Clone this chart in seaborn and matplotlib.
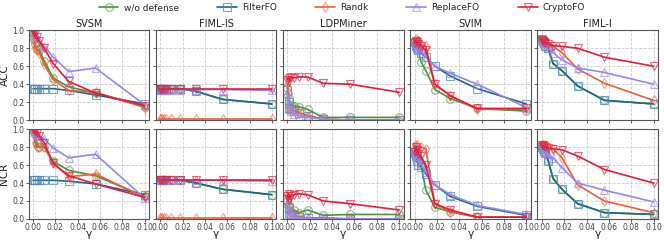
import matplotlib
matplotlib.use("Agg")
import matplotlib.pyplot as plt
import pandas as pd
import seaborn as sns

gammas = [0.0, 0.001, 0.0018, 0.0032, 0.0056, 0.01, 0.018, 0.032, 0.056, 0.1]
mechanisms = ["SVSM", "FIML-IS", "LDPMiner", "SVIM", "FIML-I"]
methods = ["w/o defense", "FilterFO", "Randk", "ReplaceFO", "CryptoFO"]
metrics = ["ACC", "NCR"]

# ACC, per mechanism, per method
svsm_acc = {
    "w/o defense": [0.97, 0.90, 0.85, 0.79, 0.78, 0.66, 0.47, 0.37, 0.30, 0.15],
    "FilterFO": [0.35, 0.35, 0.35, 0.35, 0.35, 0.35, 0.35, 0.33, 0.28, 0.18],
    "Randk": [0.95, 0.88, 0.80, 0.78, 0.75, 0.62, 0.45, 0.33, 0.31, 0.14],
    "ReplaceFO": [0.99, 0.98, 0.95, 0.92, 0.88, 0.82, 0.70, 0.54, 0.58, 0.17],
    "CryptoFO": [0.99, 0.98, 0.96, 0.93, 0.88, 0.80, 0.63, 0.43, 0.30, 0.16],
}
fimlis_acc = {
    "w/o defense": [0.35, 0.35, 0.35, 0.35, 0.35, 0.35, 0.35, 0.32, 0.23, 0.18],
    "FilterFO": [0.35, 0.35, 0.35, 0.35, 0.35, 0.35, 0.35, 0.32, 0.23, 0.18],
    "Randk": [0.01, 0.01, 0.01, 0.01, 0.01, 0.01, 0.01, 0.01, 0.01, 0.01],
    "ReplaceFO": [0.34, 0.34, 0.34, 0.34, 0.34, 0.34, 0.34, 0.34, 0.34, 0.33],
    "CryptoFO": [0.35, 0.35, 0.35, 0.35, 0.35, 0.35, 0.35, 0.35, 0.35, 0.35],
}
ldp_acc = {
    "w/o defense": [0.36, 0.25, 0.16, 0.17, 0.16, 0.15, 0.12, 0.03, 0.03, 0.03],
    "FilterFO": [0.33, 0.20, 0.13, 0.12, 0.10, 0.08, 0.05, 0.01, 0.00, 0.00],
    "Randk": [0.40, 0.30, 0.15, 0.10, 0.10, 0.08, 0.05, 0.01, 0.00, 0.00],
    "ReplaceFO": [0.30, 0.20, 0.12, 0.10, 0.07, 0.05, 0.03, 0.01, 0.00, 0.00],
    "CryptoFO": [0.45, 0.47, 0.43, 0.48, 0.47, 0.48, 0.48, 0.41, 0.40, 0.31],
}
svim_acc = {
    "w/o defense": [0.85, 0.82, 0.80, 0.78, 0.65, 0.55, 0.34, 0.24, 0.13, 0.10],
    "FilterFO": [0.87, 0.83, 0.80, 0.78, 0.75, 0.70, 0.60, 0.49, 0.35, 0.18],
    "Randk": [0.85, 0.90, 0.88, 0.88, 0.85, 0.82, 0.40, 0.27, 0.12, 0.12],
    "ReplaceFO": [0.88, 0.85, 0.83, 0.80, 0.78, 0.70, 0.60, 0.52, 0.40, 0.14],
    "CryptoFO": [0.86, 0.88, 0.87, 0.85, 0.83, 0.78, 0.40, 0.27, 0.13, 0.13],
}
fimli_acc = {
    "w/o defense": [0.90, 0.88, 0.86, 0.83, 0.80, 0.63, 0.55, 0.38, 0.22, 0.18],
    "FilterFO": [0.90, 0.88, 0.86, 0.83, 0.80, 0.63, 0.55, 0.38, 0.22, 0.18],
    "Randk": [0.88, 0.88, 0.87, 0.86, 0.85, 0.82, 0.75, 0.57, 0.41, 0.22],
    "ReplaceFO": [0.88, 0.87, 0.86, 0.84, 0.80, 0.75, 0.67, 0.58, 0.53, 0.40],
    "CryptoFO": [0.89, 0.88, 0.87, 0.86, 0.85, 0.83, 0.82, 0.80, 0.70, 0.60],
}

# NCR
svsm_ncr = {
    "w/o defense": [1.00, 0.98, 0.95, 0.85, 0.80, 0.80, 0.64, 0.54, 0.48, 0.25],
    "FilterFO": [0.43, 0.43, 0.43, 0.43, 0.43, 0.43, 0.43, 0.42, 0.39, 0.27],
    "Randk": [0.97, 0.95, 0.85, 0.80, 0.80, 0.80, 0.62, 0.47, 0.50, 0.24],
    "ReplaceFO": [1.00, 0.99, 0.97, 0.95, 0.92, 0.89, 0.79, 0.68, 0.72, 0.23],
    "CryptoFO": [1.00, 0.99, 0.98, 0.96, 0.92, 0.85, 0.62, 0.48, 0.39, 0.24],
}
fimlis_ncr = {
    "w/o defense": [0.43, 0.43, 0.43, 0.43, 0.43, 0.43, 0.43, 0.40, 0.33, 0.27],
    "FilterFO": [0.43, 0.43, 0.43, 0.43, 0.43, 0.43, 0.43, 0.40, 0.33, 0.27],
    "Randk": [0.01, 0.01, 0.01, 0.01, 0.01, 0.01, 0.01, 0.01, 0.01, 0.01],
    "ReplaceFO": [0.43, 0.43, 0.43, 0.43, 0.43, 0.43, 0.43, 0.43, 0.43, 0.42],
    "CryptoFO": [0.43, 0.43, 0.43, 0.43, 0.43, 0.43, 0.43, 0.43, 0.43, 0.43],
}
ldp_ncr = {
    "w/o defense": [0.20, 0.15, 0.10, 0.08, 0.10, 0.07, 0.10, 0.04, 0.05, 0.05],
    "FilterFO": [0.22, 0.12, 0.06, 0.04, 0.03, 0.02, 0.01, 0.01, 0.00, 0.00],
    "Randk": [0.25, 0.15, 0.08, 0.05, 0.03, 0.02, 0.01, 0.01, 0.00, 0.00],
    "ReplaceFO": [0.18, 0.10, 0.05, 0.03, 0.02, 0.01, 0.01, 0.00, 0.00, 0.00],
    "CryptoFO": [0.25, 0.28, 0.22, 0.26, 0.27, 0.28, 0.27, 0.20, 0.17, 0.10],
}
svim_ncr = {
    "w/o defense": [0.70, 0.75, 0.72, 0.68, 0.60, 0.32, 0.13, 0.08, 0.02, 0.02],
    "FilterFO": [0.75, 0.70, 0.65, 0.60, 0.58, 0.50, 0.38, 0.25, 0.14, 0.04],
    "Randk": [0.82, 0.80, 0.82, 0.78, 0.80, 0.78, 0.17, 0.08, 0.02, 0.02],
    "ReplaceFO": [0.80, 0.75, 0.70, 0.68, 0.62, 0.52, 0.38, 0.27, 0.15, 0.05],
    "CryptoFO": [0.75, 0.80, 0.77, 0.72, 0.70, 0.60, 0.17, 0.10, 0.02, 0.02],
}
fimli_ncr = {
    "w/o defense": [0.80, 0.78, 0.76, 0.73, 0.65, 0.45, 0.33, 0.17, 0.07, 0.05],
    "FilterFO": [0.80, 0.78, 0.76, 0.73, 0.65, 0.45, 0.33, 0.17, 0.07, 0.05],
    "Randk": [0.82, 0.82, 0.81, 0.80, 0.80, 0.78, 0.68, 0.38, 0.20, 0.07],
    "ReplaceFO": [0.80, 0.78, 0.76, 0.74, 0.72, 0.68, 0.57, 0.40, 0.32, 0.19],
    "CryptoFO": [0.82, 0.82, 0.81, 0.80, 0.79, 0.78, 0.77, 0.70, 0.55, 0.40],
}

results = {
    "ACC": [svsm_acc, fimlis_acc, ldp_acc, svim_acc, fimli_acc],
    "NCR": [svsm_ncr, fimlis_ncr, ldp_ncr, svim_ncr, fimli_ncr],
}

line_colors = {
    "w/o defense": "#4f8f3f",
    "FilterFO": "#1f6688",
    "Randk": "#e6603a",
    "ReplaceFO": "#9587f0",
    "CryptoFO": "#dc1f3c",
}
marker_colors = {
    "w/o defense": (0.35, 0.62, 0.30, 0.7),
    "FilterFO": (0.30, 0.55, 0.70, 0.75),
    "Randk": (0.92, 0.40, 0.25, 0.6),
    "ReplaceFO": (0.60, 0.55, 0.95, 0.7),
    "CryptoFO": (0.88, 0.15, 0.25, 0.7),
}
markers = {
    "w/o defense": "o",
    "FilterFO": "s",
    "Randk": "d",
    "ReplaceFO": "^",
    "CryptoFO": "v",
}

sns.set_style("ticks")
plt.rcParams["font.family"] = ["DejaVu Sans"]

fig, axes = plt.subplots(2, 5, figsize=(6.64, 2.46), dpi=100, sharex=True, sharey=True)
fig.subplots_adjust(left=0.043, right=0.991, top=0.877, bottom=0.11, wspace=0.055, hspace=0.1)

for r, metric in enumerate(metrics):
    for c, mech in enumerate(mechanisms):
        ax = axes[r, c]
        data = results[metric][c]
        for m in methods:
            df = pd.DataFrame({"gamma": gammas, "value": data[m]})
            sns.lineplot(
                data=df, x="gamma", y="value", ax=ax,
                color=line_colors[m], marker=markers[m], markersize=5.5,
                markerfacecolor="none", markeredgecolor=marker_colors[m],
                markeredgewidth=0.8, linewidth=1.2, label=m, legend=False,
            )
        ax.set_xlim(-0.004, 0.104)
        ax.set_ylim(0, 1.0)
        ax.set_xticks([0.0, 0.02, 0.04, 0.06, 0.08, 0.10])
        ax.set_yticks([0.0, 0.2, 0.4, 0.6, 0.8, 1.0])
        ax.xaxis.set_major_formatter(matplotlib.ticker.FormatStrFormatter("%.2f"))
        ax.yaxis.set_major_formatter(matplotlib.ticker.FormatStrFormatter("%.1f"))
        ax.grid(True, linestyle="--", color="#cccccc", linewidth=0.6)
        ax.tick_params(labelsize=5.5, length=2, width=0.6, colors="#444444", pad=1.0)
        for s in ax.spines.values():
            s.set_color("#555555")
            s.set_linewidth(0.8)
        ax.set_xlabel("")
        ax.set_ylabel("")
        if r == 0:
            ax.set_title(mech, fontsize=7, pad=2, color="#222222")
        else:
            ax.set_xlabel("γ", fontsize=7.5, labelpad=-2.5, color="#222222")
        if c == 0:
            ax.set_ylabel(metric, fontsize=7.5, labelpad=2, color="#222222")

handles, labels = axes[0, 0].get_legend_handles_labels()
fig.legend(handles, labels, loc="upper center", bbox_to_anchor=(0.515, 1.02), ncol=5,
           frameon=False, fontsize=6.5, columnspacing=4.2, handlelength=2.2,
           handletextpad=0.6)

plt.savefig("out.png", dpi=100)
